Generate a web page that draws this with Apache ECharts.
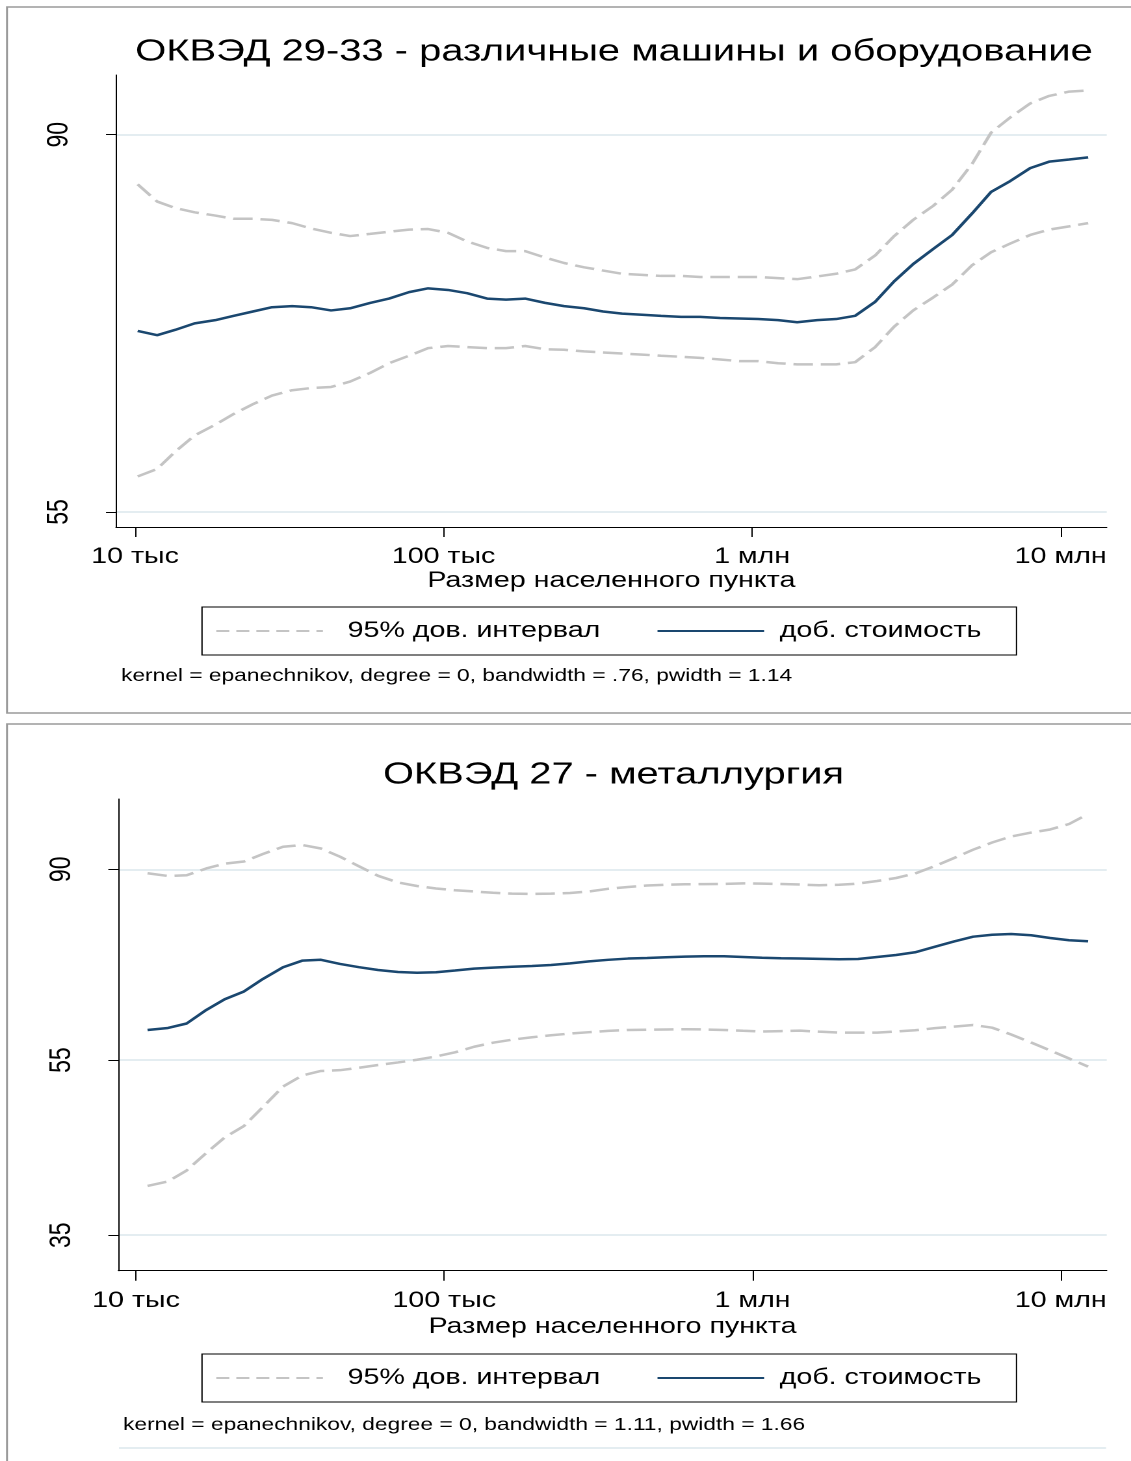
<!DOCTYPE html>
<html><head><meta charset="utf-8">
<script src="https://cdn.jsdelivr.net/npm/echarts@6/dist/echarts.min.js"></script>
<style>
html,body{margin:0;padding:0;background:#fff;overflow:hidden;}
#wrap{width:1131px;height:1461px;overflow:hidden;position:relative;background:#fff;}
#chart{width:870px;height:1461px;transform:scaleX(1.3);transform-origin:0 0;}
</style></head><body><div id="wrap"><div id="chart"></div></div>
<script>
// ---------- data ----------
const titleTop = 'ОКВЭД 29-33 - различные машины и оборудование';
const titleBottom = 'ОКВЭД 27 - металлургия';
const xAxisName = 'Размер населенного пункта';
const ciName = '95% дов. интервал';
const estName = 'доб. стоимость';
const noteTop = 'kernel = epanechnikov, degree = 0, bandwidth = .76, pwidth = 1.14';
const noteBottom = 'kernel = epanechnikov, degree = 0, bandwidth = 1.11, pwidth = 1.66';

const xTickValues = [1e4, 1e5, 1e6, 1e7];
const xTickLabels = ['10 тыс', '100 тыс', '1 млн', '10 млн'];
const yTicksTop = [55, 90];
const yTicksBottom = [35, 55, 90];

// chart 1: ОКВЭД 29-33
const popTop = [10200, 11800, 13500, 15600, 18200, 20900, 24100, 27800, 32300, 37200,
  43200, 49800, 57800, 66600, 77300, 89100, 103400, 119200, 138400, 159400,
  183800, 213300, 245800, 285400, 328900, 379000, 439900, 507000, 588800, 678400,
  787700, 907600, 1045700, 1214200, 1399400, 1624600, 1872200, 2157400, 2504800, 2886900,
  3326500, 3861700, 4449500, 5166000, 5953000, 6861000, 7965000, 9177000, 10656000, 12278000];
const valueTop = [71.8, 71.4, 71.9, 72.5, 72.8, 73.2, 73.6, 74.0, 74.1, 74.0,
  73.7, 73.9, 74.4, 74.8, 75.4, 75.75, 75.6, 75.3, 74.8, 74.7,
  74.8, 74.4, 74.1, 73.9, 73.6, 73.4, 73.3, 73.2, 73.1, 73.1,
  73.0, 72.95, 72.9, 72.8, 72.6, 72.8, 72.9, 73.2, 74.5, 76.4,
  78.0, 79.4, 80.7, 82.7, 84.7, 85.7, 86.9, 87.5, 87.7, 87.9];
const upperTop = [85.4, 83.8, 83.2, 82.8, 82.5, 82.2, 82.2, 82.1, 81.8, 81.3,
  80.9, 80.6, 80.8, 81.0, 81.2, 81.25, 80.9, 80.1, 79.5, 79.2,
  79.2, 78.6, 78.1, 77.7, 77.4, 77.1, 77.0, 76.9, 76.9, 76.8,
  76.8, 76.8, 76.8, 76.7, 76.6, 76.85, 77.1, 77.5, 78.8, 80.6,
  82.1, 83.4, 84.9, 87.3, 90.2, 91.6, 92.9, 93.6, 94.0, 94.1];
const lowerTop = [58.3, 59.0, 60.6, 62.1, 63.1, 64.1, 65.0, 65.8, 66.3, 66.5,
  66.6, 67.1, 67.9, 68.8, 69.5, 70.2, 70.4, 70.3, 70.2, 70.2,
  70.4, 70.1, 70.05, 69.9, 69.8, 69.7, 69.6, 69.5, 69.4, 69.3,
  69.15, 69.0, 69.0, 68.8, 68.7, 68.7, 68.7, 68.9, 70.3, 72.2,
  73.7, 74.9, 76.1, 77.9, 79.1, 79.9, 80.7, 81.2, 81.5, 81.8];

// chart 2: ОКВЭД 27
const popBottom = [10900, 12700, 14600, 16900, 19400, 22400, 25800, 30000, 34600, 39800,
  45900, 52900, 61000, 70800, 81600, 94100, 108400, 125000, 144000, 166000,
  192700, 222100, 256000, 295000, 340100, 394900, 455000, 524400, 604400, 696700,
  808800, 932200, 1074400, 1238200, 1427100, 1644700, 1909800, 2201100, 2536800, 2923900,
  3369900, 3913300, 4510200, 5198000, 5991000, 6905000, 8017000, 9239000, 10648000, 12271000];
const valueBottom = [59.45, 59.76, 60.45, 62.60, 64.35, 65.66, 67.81, 69.89, 71.09, 71.25,
  70.49, 69.91, 69.40, 69.05, 68.92, 68.99, 69.31, 69.64, 69.83, 69.98,
  70.12, 70.30, 70.60, 70.96, 71.25, 71.48, 71.59, 71.72, 71.83, 71.90,
  71.90, 71.77, 71.64, 71.53, 71.48, 71.42, 71.35, 71.40, 71.77, 72.14,
  72.65, 73.70, 74.70, 75.63, 76.00, 76.16, 75.91, 75.38, 74.93, 74.74];
const upperBottom = [89.08, 88.46, 88.62, 90.19, 91.31, 91.83, 93.62, 95.38, 95.82, 94.96,
  92.97, 90.70, 88.50, 86.99, 86.20, 85.65, 85.27, 84.99, 84.70, 84.51,
  84.44, 84.53, 84.66, 84.99, 85.58, 85.98, 86.31, 86.47, 86.58, 86.63,
  86.67, 86.78, 86.72, 86.65, 86.52, 86.38, 86.47, 86.74, 87.32, 88.00,
  89.03, 90.77, 92.66, 94.67, 96.44, 97.95, 98.94, 99.74, 101.16, 103.81];
const lowerBottom = [39.75, 40.21, 41.37, 43.28, 45.05, 46.40, 48.73, 51.38, 52.85, 53.48,
  53.59, 53.92, 54.31, 54.67, 55.05, 55.52, 56.12, 56.93, 57.53, 57.98,
  58.34, 58.64, 58.90, 59.11, 59.31, 59.45, 59.48, 59.53, 59.56, 59.53,
  59.45, 59.33, 59.22, 59.28, 59.34, 59.19, 59.04, 59.04, 59.05, 59.22,
  59.40, 59.73, 59.97, 60.22, 59.80, 58.76, 57.56, 56.39, 55.23, 54.08];

// axis extents (population / value)
const xRangeTop = [8677, 14100000];
const xRangeBottom = [8762, 14100000];
const yRangeTop = [53.61, 95.54];      // linear scale
const yRangeBottom = [31.94, 107.9];   // logarithmic scale

// ---------- rendering ----------
const S = 1.3; // horizontal stretch of the original picture
const FONT = '"Liberation Sans", Arial, Helvetica, sans-serif';
const NAVY = '#1a476f';
const GREY = '#c4c4c4';
const GRID = '#e4edf1';

const lg = v => Math.log10(v);
const ln = v => Math.log(v);
const pairs = (xs, ys, fy) => xs.map((x, i) => [lg(x), fy(ys[i])]);
const idY = v => v;

function xAxis(gridIndex, range, nameGap) {
  const tv = xTickValues.map(lg);
  return {
    type: 'value', gridIndex, min: lg(range[0]), max: lg(range[1]),
    name: xAxisName, nameLocation: 'middle', nameGap,
    nameTextStyle: { fontFamily: FONT, fontSize: 22, color: '#000' },
    axisLine: { show: true, onZero: false, lineStyle: { color: '#000', width: 1 } },
    axisTick: { show: true, length: 10, customValues: tv, lineStyle: { color: '#000', width: 1 } },
    axisLabel: {
      customValues: tv, margin: 19, fontFamily: FONT, fontSize: 22, color: '#000',
      formatter: v => { const i = tv.findIndex(t => Math.abs(t - v) < 1e-6); return i >= 0 ? xTickLabels[i] : ''; }
    },
    splitLine: { show: false }
  };
}
function yAxis(gridIndex, range, ticks, f, finv) {
  const tv = ticks.map(f);
  return {
    type: 'value', gridIndex, min: f(range[0]), max: f(range[1]),
    axisLine: { show: true, onZero: false, lineStyle: { color: '#000', width: 1 } },
    axisTick: { show: true, length: 10 / S, customValues: tv, lineStyle: { color: '#000', width: 1 } },
    axisLabel: {
      customValues: tv, rotate: 90, margin: 32, fontFamily: FONT, fontSize: 23, color: '#000',
      formatter: v => String(Math.round(finv(v)))
    },
    splitLine: { show: true, lineStyle: { color: GRID, width: 2 } }
  };
}
function ciSeries(xi, data) {
  return { name: ciName, type: 'line', xAxisIndex: xi, yAxisIndex: xi, data, symbol: 'none', smooth: false,
    lineStyle: { color: GREY, width: 2.5, type: [15, 6] }, itemStyle: { color: GREY }, z: 2, silent: true };
}
function estSeries(xi, data) {
  return { name: estName, type: 'line', xAxisIndex: xi, yAxisIndex: xi, data, symbol: 'none', smooth: false,
    lineStyle: { color: NAVY, width: 2.5 }, itemStyle: { color: NAVY }, z: 3, silent: true };
}
function legend(top) {
  return {
    left: 202 / S, top, orient: 'horizontal', selectedMode: false,
    data: [
      { name: ciName, textStyle: { padding: [0, 0, 0, 14] }, lineStyle: { type: [10, 5.4] } },
      { name: estName, textStyle: { padding: [0, 0, 0, 7] } }
    ],
    itemWidth: 82, itemHeight: 14, itemGap: 43,
    itemStyle: { opacity: 0 },
    padding: [13, 27, 13, 10],
    borderColor: '#000', borderWidth: 1, backgroundColor: '#fff',
    textStyle: { fontFamily: FONT, fontSize: 22, color: '#000' }
  };
}
function text(x, y, str, size, align) {
  return { type: 'text', silent: true, z: 10,
    style: { text: str, x: x / S, y, align: align || 'center', verticalAlign: 'middle',
      fontFamily: FONT, fontSize: size, fill: '#000' } };
}

const chart = echarts.init(document.getElementById('chart'), null, { renderer: 'canvas', devicePixelRatio: 2 });
chart.setOption({
  backgroundColor: '#fff',
  animation: false,
  grid: [
    { left: 116 / S, right: 870 - 1106.7 / S, top: 75, height: 452, containLabel: false },
    { left: 118.3 / S, right: 870 - 1106.7 / S, top: 799, height: 471.7, containLabel: false }
  ],
  xAxis: [xAxis(0, xRangeTop, 43), xAxis(1, xRangeBottom, 45)],
  yAxis: [
    yAxis(0, yRangeTop, yTicksTop, idY, idY),
    yAxis(1, yRangeBottom, yTicksBottom, ln, Math.exp)
  ],
  legend: [legend(607), legend(1354)],
  series: [
    ciSeries(0, pairs(popTop, upperTop, idY)),
    ciSeries(0, pairs(popTop, lowerTop, idY)),
    estSeries(0, pairs(popTop, valueTop, idY)),
    ciSeries(1, pairs(popBottom, upperBottom, ln)),
    ciSeries(1, pairs(popBottom, lowerBottom, ln)),
    estSeries(1, pairs(popBottom, valueBottom, ln))
  ],
  graphic: [
    { type: 'rect', silent: true, z: 0, shape: { x: 7 / S, y: 7, width: 1140 / S, height: 706 },
      style: { fill: 'none', stroke: '#9a9a9a', lineWidth: 1.5 } },
    { type: 'rect', silent: true, z: 0, shape: { x: 7 / S, y: 724, width: 1140 / S, height: 800 },
      style: { fill: 'none', stroke: '#9a9a9a', lineWidth: 1.5 } },
    { type: 'line', silent: true, z: 0, shape: { x1: 119 / S, y1: 1448, x2: 1106 / S, y2: 1448 },
      style: { stroke: GRID, lineWidth: 2 } },
    text(614, 52, titleTop, 30.7),
    text(613.5, 775, titleBottom, 30.7),
    text(121, 676, noteTop, 17.5, 'left'),
    text(123, 1425, noteBottom, 17.5, 'left')
  ]
});
</script></body></html>
